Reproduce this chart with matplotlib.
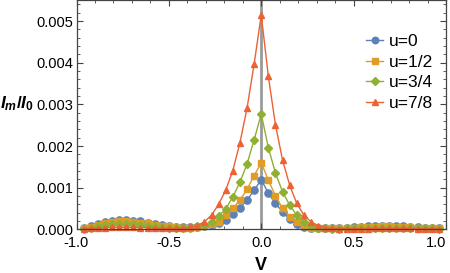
import numpy as np
import matplotlib
matplotlib.use("Agg")
import matplotlib.pyplot as plt
from matplotlib.ticker import FixedLocator, MultipleLocator, FormatStrFormatter

plt.rcParams['font.family'] = ['Liberation Sans', 'DejaVu Sans']
plt.rcParams['mathtext.fontset'] = 'custom'
plt.rcParams['mathtext.it'] = 'Liberation Sans:bold:italic'
plt.rcParams['mathtext.rm'] = 'Liberation Sans:bold'
plt.rcParams['mathtext.bf'] = 'Liberation Sans:bold'

# V grid (k/26, k=-25..25)
V = np.arange(-25, 26) / 26.0

labels = ["u=0", "u=1/2", "u=3/4", "u=7/8"]
xticks = [-1.0, -0.5, 0.0, 0.5, 1.0]

u0 = [0.03, 0.08, 0.13, 0.17, 0.20, 0.22, 0.22, 0.21, 0.19, 0.16, 0.13, 0.10, 0.08,
      0.06, 0.05, 0.05, 0.06, 0.08, 0.11, 0.15, 0.23, 0.37, 0.51, 0.70, 0.94,
      1.19,
      0.87, 0.62, 0.42, 0.24, 0.12, 0.06, 0.03, 0.02, 0.02, 0.02, 0.03, 0.04,
      0.05, 0.06, 0.07, 0.07, 0.08, 0.08, 0.07, 0.07, 0.06, 0.05, 0.04, 0.03, 0.02]

u12 = [0.02, 0.06, 0.11, 0.15, 0.18, 0.19, 0.19, 0.18, 0.16, 0.14, 0.11, 0.09, 0.07,
       0.05, 0.04, 0.04, 0.05, 0.08, 0.12, 0.18, 0.34, 0.50, 0.70, 0.96, 1.29,
       1.60,
       1.18, 0.80, 0.50, 0.30, 0.17, 0.09, 0.04, 0.02, 0.02, 0.02, 0.02, 0.03,
       0.04, 0.05, 0.06, 0.06, 0.07, 0.07, 0.06, 0.06, 0.05, 0.04, 0.03, 0.03, 0.02]

u34 = [0.01, 0.04, 0.07, 0.10, 0.12, 0.13, 0.13, 0.12, 0.11, 0.09, 0.07, 0.05, 0.04,
       0.03, 0.03, 0.04, 0.07, 0.11, 0.18, 0.32, 0.49, 0.78, 1.13, 1.57, 2.15,
       2.77,
       1.96, 1.35, 0.90, 0.58, 0.34, 0.18, 0.09, 0.04, 0.02, 0.01, 0.01, 0.02,
       0.02, 0.03, 0.03, 0.04, 0.04, 0.04, 0.04, 0.04, 0.03, 0.03, 0.02, 0.02, 0.01]

u78 = [0.01, 0.02, 0.03, 0.04, 0.05, 0.05, 0.05, 0.05, 0.04, 0.04, 0.03, 0.02, 0.02,
       0.02, 0.03, 0.05, 0.09, 0.18, 0.34, 0.60, 0.94, 1.41, 2.08, 2.91, 3.97,
       5.15,
       3.67, 2.51, 1.66, 1.06, 0.62, 0.34, 0.18, 0.09, 0.04, 0.02, 0.01, 0.01,
       0.01, 0.01, 0.01, 0.02, 0.02, 0.02, 0.02, 0.02, 0.02, 0.01, 0.01, 0.01, 0.01]

series = [u0, u12, u34, u78]
colors = ["#5E81B5", "#E19C24", "#8FB032", "#EB6235"]
markers = ["o", "s", "D", "^"]
msizes = [5.2, 4.3, 4.3, 5.0]

fig = plt.figure(figsize=(4.5, 2.73), dpi=100)
ax = fig.add_axes([76.5/450, (273-229.3)/273, (446-76.5)/450, 229/273])

ax.axvline(0, color="#9a9a9a", lw=2.0, zorder=1)

handles = []
for vals, c, m, ms, lab in zip(series, colors, markers, msizes, labels):
    y = np.array(vals) * 1e-3
    h, = ax.plot(V, y, color=c, lw=1.0, marker=m, ms=ms, mec=c, mfc=c,
                 label=lab, zorder=2, clip_on=False)
    handles.append(h)

ax.set_xlim(-1.0, 1.0)
ax.set_ylim(0, 0.0055)

ax.xaxis.set_major_locator(FixedLocator(xticks))
ax.xaxis.set_minor_locator(MultipleLocator(0.1))
ax.yaxis.set_major_locator(MultipleLocator(0.001))
ax.yaxis.set_minor_locator(MultipleLocator(0.0002))
ax.xaxis.set_major_formatter(FormatStrFormatter("%.1f"))
ax.yaxis.set_major_formatter(FormatStrFormatter("%.3f"))

ax.tick_params(which="both", direction="in", top=True, right=True, colors="#444444",
               labelcolor="black", labelsize=10.5)
ax.tick_params(which="major", length=4, width=0.8)
ax.tick_params(axis="x", which="major", pad=5)
ax.tick_params(axis="y", which="major", pad=2)
ax.tick_params(which="minor", length=2, width=0.6)
for s in ax.spines.values():
    s.set_color("#444444")
    s.set_linewidth(0.9)

fig.canvas.draw()
xt = ax.get_xticklabels()
xt[-1].set_horizontalalignment("right")
xt[0].set_horizontalalignment("center")

ax.set_xlabel("V", fontsize=13, fontweight="bold", labelpad=5)
fig.text(0/450, 1 - 104/273, r"$I_m/I_0$", fontsize=12.5,
         va="center", ha="left")

leg = ax.legend(handles=handles, loc="upper left", bbox_to_anchor=(0.765, 0.885),
                frameon=False, fontsize=12.5, handlelength=1.0, handletextpad=0.3,
                labelspacing=0.33, borderaxespad=0, markerscale=0.9)

fig.savefig("out.png", dpi=100)
